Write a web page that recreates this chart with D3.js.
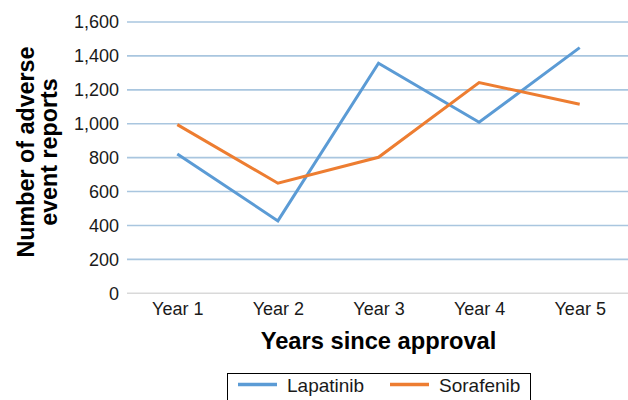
<!DOCTYPE html>
<html><head><meta charset="utf-8">
<script src="https://cdn.jsdelivr.net/npm/d3@7"></script>
<style>body{margin:0;background:#fff}svg{display:block;font-family:"Liberation Sans",Arial,sans-serif}</style>
</head><body>
<svg id="c" width="628" height="400"></svg>
<script>
const categories = ["Year 1","Year 2","Year 3","Year 4","Year 5"];
const lapatinib = [822, 427, 1357, 1009, 1449];
const sorafenib = [995, 649, 802, 1243, 1115];
const yTicks = [0,200,400,600,800,1000,1200,1400,1600];
const seriesNames = ["Lapatinib","Sorafenib"];
const colors = ["#5b9bd5","#ed7d31"];

(function(){
const svg = d3.select("#c");
const pLeft = 127, pRight = 630, pTop = 22, pBottom = 293.3;
const x = d3.scalePoint().domain(categories).range([pLeft, pRight]).padding(0.5);
const y = d3.scaleLinear().domain([0,1600]).range([pBottom, pTop]);
const ff = "Liberation Sans, Arial, sans-serif";

// grid
svg.append("g").selectAll("line").data(yTicks).join("line")
  .attr("x1", pLeft).attr("x2", pRight)
  .attr("y1", d=>y(d)).attr("y2", d=>y(d))
  .attr("stroke", d=> d===0 ? "#d9d9d9" : "#a9c6df").attr("stroke-width", 1.6);

// y axis labels
const yAx = svg.append("g").attr("transform",`translate(${pLeft-8},0)`)
  .call(d3.axisLeft(y).tickValues(yTicks).tickFormat(d3.format(",")).tickSize(0).tickPadding(0));
yAx.select(".domain").remove();
yAx.selectAll("text").attr("font-size",18).attr("fill","#1a1a1a").attr("font-family",ff);

// x axis labels
const xAx = svg.append("g").attr("transform",`translate(0,0)`)
  .call(d3.axisBottom(x).tickSize(0).tickPadding(0));
xAx.select(".domain").remove();
xAx.selectAll("text").attr("font-size",18).attr("fill","#1a1a1a").attr("y",315).attr("dy",null).attr("font-family",ff);

// lines
const line = d3.line().x((d,i)=>x(categories[i])).y(d=>y(d));
[lapatinib, sorafenib].forEach((s,k)=>{
  svg.append("path").datum(s).attr("d",line).attr("fill","none")
    .attr("stroke",colors[k]).attr("stroke-width",3).attr("stroke-linejoin","miter");
});

// axis titles
svg.append("text").attr("x",378.5).attr("y",349).attr("text-anchor","middle")
  .attr("font-size",23.7).attr("font-weight","bold").attr("fill","#000").text("Years since approval");
const yt = svg.append("text").attr("transform","translate(0,152) rotate(-90)")
  .attr("text-anchor","middle").attr("font-size",23.3).attr("font-weight","bold").attr("fill","#000");
yt.append("tspan").attr("x",0).attr("y",34).text("Number of adverse");
yt.append("tspan").attr("x",0).attr("y",57).text("event reports");

// legend
svg.append("rect").attr("x",227.5).attr("y",373.5).attr("width",303).attr("height",40)
  .attr("fill","#fff").attr("stroke","#000").attr("stroke-width",1);
const lx = [238, 390];
seriesNames.forEach((n,k)=>{
  svg.append("line").attr("x1",lx[k]).attr("x2",lx[k]+39).attr("y1",384.5).attr("y2",384.5)
    .attr("stroke",colors[k]).attr("stroke-width",3.5);
  svg.append("text").attr("x",lx[k]+49).attr("y",391.5).attr("font-size",19).attr("fill","#1a1a1a").attr("font-family",ff).text(n);
});
})();
</script>
</body></html>
